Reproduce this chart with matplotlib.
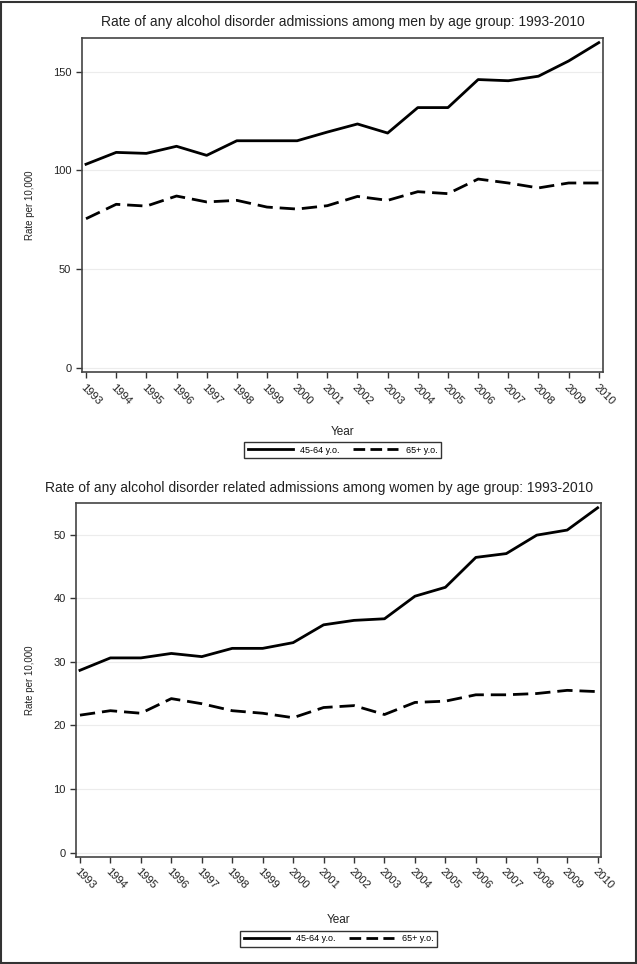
import matplotlib
matplotlib.use("Agg")
import matplotlib.pyplot as plt
from matplotlib.patches import Rectangle

plt.rcParams['font.family'] = ['Liberation Sans', 'DejaVu Sans']

years = list(range(1993, 2011))

men_45_64 = [103.1, 109.1, 108.6, 112.2, 107.6, 115.0, 115.0, 115.0, 119.4,
             123.5, 118.9, 131.8, 131.8, 146.0, 145.4, 147.7, 155.4, 164.7]
men_65 = [75.5, 82.8, 81.9, 87.0, 84.0, 84.8, 81.4, 80.4, 82.1,
          86.8, 84.8, 89.2, 88.2, 95.6, 93.6, 91.1, 93.6, 93.6]

women_45_64 = [28.65, 30.6, 30.6, 31.3, 30.8, 32.1, 32.1, 33.0, 35.8,
               36.5, 36.75, 40.3, 41.7, 46.4, 47.0, 49.9, 50.7, 54.2]
women_65 = [21.6, 22.3, 21.9, 24.2, 23.4, 22.3, 21.9, 21.2, 22.8,
            23.1, 21.7, 23.6, 23.8, 24.8, 24.8, 25.0, 25.5, 25.3]

titles = ["Rate of any alcohol disorder admissions among men by age group: 1993-2010",
          "Rate of any alcohol disorder related admissions among women by age group: 1993-2010"]
labels = ["45-64 y.o.", "65+ y.o."]

W, H = 637, 964
fig = plt.figure(figsize=(W / 100, H / 100), dpi=100)
fig.patch.set_facecolor("white")

# outer frame
fig.patches.append(Rectangle((1.5 / W, 1.5 / H), 1 - 3 / W, 1 - 3 / H, transform=fig.transFigure,
                             fill=False, edgecolor="#333333", linewidth=1.5))

# (left, top, right, bottom) in pixels
boxes = [(81.7, 38.3, 603.3, 372.3), (76, 502.7, 601, 857)]
ylims = [(-2.3, 166.9), (-0.7, 55.0)]
xlims = [(1992.857, 2010.15), (1992.87, 2010.11)]
yticks = [[0, 50, 100, 150], [0, 10, 20, 30, 40, 50]]
title_pos = [(343, 22), (319, 488)]
data = [(men_45_64, men_65), (women_45_64, women_65)]

for i in range(2):
    l, t, r, b = boxes[i]
    ax = fig.add_axes([l / W, 1 - b / H, (r - l) / W, (b - t) / H])
    s1, s2 = data[i]
    ax.plot(years, s1, color="black", linewidth=2.0, solid_joinstyle="round", label=labels[0])
    ax.plot(years, s2, color="black", linewidth=2.0, dashes=(5.5, 2.5), label=labels[1])
    ax.set_xlim(*xlims[i])
    ax.set_ylim(*ylims[i])
    ax.set_yticks(yticks[i])
    ax.set_xticks(years)
    ax.set_xticklabels([str(y) for y in years], rotation=-45, ha="left", va="top",
                       rotation_mode="anchor", fontsize=8, color="#222222")
    ax.tick_params(axis="y", labelsize=8, labelcolor="#222222", length=4, width=1, color="#333333")
    ax.tick_params(axis="x", length=4, width=1, color="#333333", pad=3)
    ax.grid(axis="y", color="#ececec", linewidth=0.8)
    ax.set_axisbelow(True)
    for sp in ax.spines.values():
        sp.set_color("#444444")
        sp.set_linewidth(1.2)
    ax.set_ylabel("Rate per 10,000", fontsize=7, color="#222222")
    ax.yaxis.set_label_coords((35 - l) / (r - l), 0.5)
    ax.set_xlabel("Year", fontsize=8.5, color="#222222")
    ax.xaxis.set_label_coords(0.5, -0.16)
    leg = ax.legend(loc="upper center", bbox_to_anchor=(0.5, -0.195), ncol=2, fontsize=6.5,
                    handlelength=5, columnspacing=1.5, handletextpad=0.8, frameon=True,
                    fancybox=False, borderpad=0.4)
    leg.get_lines()[1].set_dashes((4.2, 1.9))
    leg.get_frame().set_edgecolor("black")
    leg.get_frame().set_linewidth(1.0)
    fig.text(title_pos[i][0] / W, 1 - title_pos[i][1] / H, titles[i], ha="center", va="center",
             fontsize=10, color="#222222")

fig.savefig("out.png", dpi=100)
